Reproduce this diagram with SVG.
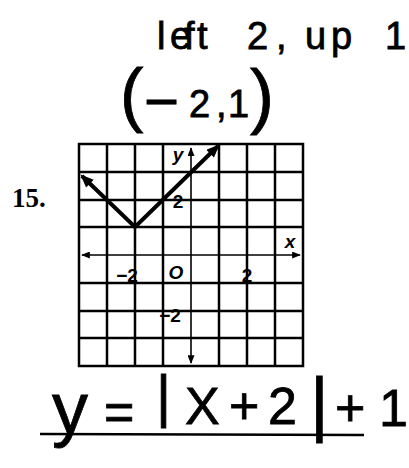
<svg xmlns="http://www.w3.org/2000/svg" width="409" height="468" viewBox="0 0 409 468">
  <style>
    .grid { stroke: #000; stroke-width: 2.5; fill: none; }
    .axis { stroke: #000; stroke-width: 1.6; fill: none; }
    .curve { stroke: #000; stroke-width: 4; fill: none; stroke-linejoin: miter; }
    .lbl { font-family: "Liberation Sans", Arial, sans-serif; font-weight: bold; font-size: 19px; fill: #000; text-anchor: middle; }
    .it { font-style: italic; }
    .hw { font-family: "Liberation Sans", Arial, sans-serif; fill: #000; stroke: #000; stroke-width: 0.8; }
    .num { font-family: "Liberation Serif", "Times New Roman", serif; font-weight: bold; font-size: 27px; fill: #000; }
  </style>
  <defs>
    <marker id="axArrow" viewBox="0 0 10 8" refX="9" refY="4" markerWidth="10" markerHeight="7" markerUnits="userSpaceOnUse" orient="auto-start-reverse">
      <path d="M0,0 L10,4 L0,8 Z" fill="#000"/>
    </marker>
    <marker id="cvArrow" viewBox="0 0 12 10" refX="10" refY="5" markerWidth="14" markerHeight="11" markerUnits="userSpaceOnUse" orient="auto-start-reverse">
      <path d="M0,0 L12,5 L0,10 Z" fill="#000"/>
    </marker>
  </defs>
  <rect width="409" height="468" fill="#fff"/>

  <g id="problem-number">
    <text class="num" x="12" y="207">15.</text>
  </g>

  <g id="grid">
    <rect class="grid" x="79" y="144" width="224" height="222"/>
    <path class="grid" d="M107,144V366 M135,144V366 M163,144V366 M219,144V366 M247,144V366 M275,144V366
                          M79,172H303 M79,200H303 M79,227H303 M79,283H303 M79,311H303 M79,338H303"/>
  </g>

  <g id="axes">
    <line class="axis" x1="82" y1="255" x2="300" y2="255" marker-start="url(#axArrow)" marker-end="url(#axArrow)"/>
    <line class="axis" x1="191" y1="148" x2="191" y2="363" marker-start="url(#axArrow)" marker-end="url(#axArrow)"/>
  </g>

  <g id="axis-labels">
    <text class="lbl it" x="178" y="161">y</text>
    <text class="lbl" x="178" y="208">2</text>
    <text class="lbl it" x="290" y="248">x</text>
    <text class="lbl" x="127" y="282">−2</text>
    <text class="lbl it" x="176" y="279">O</text>
    <text class="lbl" x="247" y="282">2</text>
    <text class="lbl" x="170" y="322">−2</text>
  </g>

  <g id="graph">
    <polyline class="curve" points="82,176 135,227 218,146" marker-start="url(#cvArrow)" marker-end="url(#cvArrow)"/>
  </g>

  <g id="note-shift">
    <text class="hw" font-size="38" y="49" x="157 170 184 197 212 247 276 285 305 331 360 385">left 2, up 1</text>
  </g>

  <g id="note-vertex">
    <text class="hw" font-size="70" x="120" y="118">(</text>
    <text class="hw" font-size="60" x="144" y="122">−</text>
    <text class="hw" font-size="38" x="189" y="117">2</text>
    <text class="hw" font-size="38" x="216" y="117">,</text>
    <text class="hw" font-size="38" x="228" y="117">1</text>
    <text class="hw" font-size="72" x="250" y="120">)</text>
  </g>

  <g id="equation">
    <text class="hw" font-size="72" x="52" y="433">y</text>
    <text class="hw" font-size="52" x="104" y="430">=</text>
    <text class="hw" font-size="58" x="156" y="416">|</text>
    <text class="hw" font-size="52" y="424" x="185 229 268">X+2</text>
    <text class="hw" font-size="72" x="310" y="428">|</text>
    <text class="hw" font-size="52" y="426" x="335 379">+1</text>
    <line x1="40" y1="434" x2="364" y2="435" stroke="#000" stroke-width="2.5"/>
  </g>
</svg>
